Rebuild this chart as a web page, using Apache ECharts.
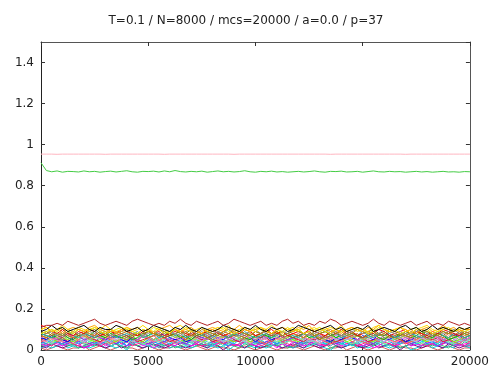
<!DOCTYPE html>
<html>
<head>
<meta charset="utf-8">
<script src="https://cdn.jsdelivr.net/npm/echarts@6/dist/echarts.min.js"></script>
<style>
  html, body { margin: 0; padding: 0; background: #fff; }
  #chart { width: 492px; height: 374px; }
</style>
</head>
<body>
<div id="chart"></div>
<script>
// Overlap of each stored pattern with the network state, sampled every 250 MCS.
const mcs = [0,250,500,750,1000,1250,1500,1750,2000,2250,
  2500,2750,3000,3250,3500,3750,4000,4250,4500,4750,
  5000,5250,5500,5750,6000,6250,6500,6750,7000,7250,
  7500,7750,8000,8250,8500,8750,9000,9250,9500,9750,
  10000,10250,10500,10750,11000,11250,11500,11750,12000,12250,
  12500,12750,13000,13250,13500,13750,14000,14250,14500,14750,
  15000,15250,15500,15750,16000,16250,16500,16750,17000,17250,
  17500,17750,18000,18250,18500,18750,19000,19250,19500,19750,
  20000];

const xTicks = [0, 5000, 10000, 15000, 20000];
const yTicks = [0, 0.2, 0.4, 0.6, 0.8, 1, 1.2, 1.4];

// pattern held near full overlap
const pinkPattern = [0.954,0.954,0.954,0.953,0.954,0.954,0.954,0.954,0.954,0.954,
  0.954,0.954,0.953,0.954,0.954,0.954,0.954,0.954,0.954,0.954,
  0.954,0.954,0.954,0.953,0.954,0.954,0.954,0.954,0.954,0.954,
  0.954,0.954,0.954,0.954,0.954,0.954,0.953,0.954,0.954,0.954,
  0.954,0.954,0.954,0.954,0.954,0.954,0.954,0.954,0.954,0.954,
  0.954,0.954,0.954,0.954,0.953,0.954,0.954,0.954,0.954,0.954,
  0.954,0.954,0.954,0.954,0.954,0.954,0.954,0.954,0.953,0.954,
  0.954,0.954,0.954,0.954,0.954,0.954,0.954,0.954,0.954,0.954,
  0.954];

// retrieved pattern
const greenPattern = [0.912,0.874,0.868,0.872,0.866,0.870,0.869,0.867,0.872,0.868,
  0.870,0.866,0.869,0.871,0.867,0.870,0.873,0.868,0.866,0.870,
  0.869,0.871,0.867,0.872,0.868,0.874,0.869,0.867,0.870,0.868,
  0.871,0.866,0.869,0.872,0.868,0.870,0.867,0.869,0.873,0.868,
  0.866,0.870,0.868,0.871,0.867,0.869,0.866,0.868,0.870,0.867,
  0.869,0.872,0.868,0.866,0.870,0.869,0.871,0.867,0.868,0.870,
  0.866,0.869,0.872,0.868,0.867,0.870,0.868,0.869,0.866,0.868,
  0.870,0.867,0.869,0.866,0.868,0.870,0.867,0.868,0.866,0.869,
  0.868];

// the remaining, weakly overlapping patterns
const m01 = [0.11,0.12,0.12,0.13,0.12,0.14,0.13,0.12,0.13,0.14,0.15,0.13,0.12,0.13,0.14,0.13,0.12,0.14,0.15,0.14,0.13,0.12,0.13,0.12,0.14,0.13,0.15,0.13,0.12,0.14,0.13,0.12,0.13,0.14,0.12,0.13,0.15,0.14,0.13,0.12,0.13,0.14,0.12,0.13,0.12,0.14,0.15,0.13,0.14,0.12,0.13,0.12,0.14,0.13,0.15,0.14,0.12,0.13,0.14,0.13,0.12,0.13,0.15,0.13,0.12,0.14,0.13,0.12,0.13,0.14,0.12,0.13,0.14,0.12,0.13,0.12,0.14,0.13,0.12,0.13,0.12];
const m02 = [0.09,0.10,0.12,0.10,0.11,0.09,0.10,0.11,0.12,0.10,0.09,0.11,0.10,0.10,0.12,0.11,0.09,0.10,0.11,0.09,0.10,0.12,0.11,0.10,0.09,0.11,0.10,0.12,0.10,0.09,0.11,0.10,0.09,0.10,0.12,0.11,0.10,0.09,0.11,0.10,0.12,0.10,0.09,0.11,0.10,0.11,0.09,0.10,0.12,0.11,0.10,0.09,0.10,0.11,0.12,0.10,0.11,0.09,0.10,0.11,0.10,0.12,0.09,0.10,0.11,0.10,0.09,0.11,0.12,0.10,0.11,0.09,0.10,0.12,0.10,0.11,0.10,0.09,0.11,0.10,0.11];
const m03 = [0.10,0.11,0.09,0.10,0.08,0.10,0.11,0.10,0.09,0.11,0.12,0.10,0.09,0.10,0.08,0.09,0.11,0.10,0.11,0.09,0.10,0.08,0.10,0.11,0.12,0.10,0.09,0.10,0.11,0.09,0.08,0.10,0.11,0.10,0.09,0.11,0.10,0.12,0.10,0.09,0.10,0.11,0.09,0.08,0.10,0.11,0.10,0.09,0.11,0.10,0.12,0.09,0.10,0.11,0.09,0.10,0.08,0.10,0.11,0.10,0.09,0.11,0.10,0.12,0.10,0.09,0.10,0.11,0.09,0.10,0.08,0.10,0.11,0.09,0.10,0.12,0.10,0.11,0.09,0.10,0.10];
const m04 = [0.08,0.09,0.10,0.09,0.11,0.09,0.08,0.10,0.09,0.10,0.11,0.09,0.08,0.09,0.10,0.11,0.10,0.09,0.08,0.10,0.09,0.11,0.10,0.08,0.09,0.10,0.09,0.11,0.10,0.09,0.08,0.10,0.09,0.10,0.11,0.09,0.08,0.09,0.10,0.09,0.11,0.10,0.09,0.08,0.10,0.09,0.11,0.09,0.10,0.08,0.09,0.10,0.11,0.09,0.08,0.10,0.09,0.10,0.11,0.09,0.10,0.08,0.09,0.11,0.10,0.09,0.10,0.08,0.09,0.10,0.11,0.09,0.10,0.08,0.09,0.10,0.11,0.09,0.10,0.09,0.10];
const m05 = [0.09,0.08,0.09,0.07,0.08,0.10,0.09,0.08,0.07,0.09,0.08,0.10,0.09,0.07,0.08,0.09,0.10,0.08,0.09,0.07,0.08,0.09,0.08,0.10,0.09,0.08,0.07,0.09,0.10,0.08,0.09,0.07,0.08,0.09,0.08,0.10,0.09,0.07,0.08,0.09,0.10,0.08,0.09,0.08,0.07,0.09,0.08,0.10,0.09,0.08,0.07,0.08,0.09,0.10,0.08,0.09,0.07,0.08,0.09,0.10,0.08,0.09,0.07,0.08,0.10,0.09,0.08,0.09,0.07,0.08,0.09,0.10,0.08,0.07,0.09,0.08,0.09,0.10,0.08,0.09,0.08];
const m06 = [0.12,0.11,0.09,0.08,0.10,0.08,0.07,0.09,0.08,0.10,0.09,0.07,0.08,0.09,0.08,0.10,0.09,0.08,0.07,0.09,0.10,0.08,0.09,0.07,0.08,0.09,0.10,0.08,0.07,0.09,0.08,0.09,0.10,0.08,0.07,0.08,0.09,0.08,0.10,0.09,0.07,0.08,0.09,0.10,0.08,0.09,0.07,0.08,0.09,0.08,0.10,0.09,0.08,0.07,0.09,0.08,0.10,0.08,0.09,0.07,0.08,0.09,0.08,0.10,0.09,0.07,0.08,0.09,0.10,0.08,0.09,0.08,0.07,0.09,0.08,0.10,0.09,0.08,0.07,0.09,0.08];
const m07 = [0.08,0.07,0.06,0.07,0.08,0.06,0.05,0.07,0.08,0.07,0.09,0.07,0.06,0.08,0.07,0.06,0.07,0.05,0.06,0.08,0.07,0.09,0.07,0.06,0.07,0.08,0.06,0.07,0.05,0.07,0.08,0.06,0.07,0.09,0.07,0.06,0.08,0.07,0.06,0.05,0.07,0.08,0.07,0.06,0.08,0.09,0.07,0.06,0.07,0.08,0.06,0.07,0.05,0.07,0.08,0.06,0.07,0.08,0.09,0.07,0.06,0.07,0.08,0.06,0.05,0.07,0.06,0.08,0.07,0.06,0.07,0.09,0.07,0.06,0.08,0.07,0.05,0.06,0.07,0.08,0.07];
const m08 = [0.06,0.05,0.07,0.06,0.05,0.04,0.06,0.07,0.05,0.06,0.08,0.06,0.05,0.06,0.07,0.05,0.04,0.06,0.05,0.07,0.06,0.05,0.07,0.08,0.06,0.05,0.06,0.04,0.05,0.07,0.06,0.07,0.05,0.06,0.05,0.07,0.08,0.06,0.05,0.06,0.04,0.06,0.07,0.05,0.06,0.07,0.05,0.06,0.08,0.06,0.05,0.06,0.07,0.05,0.04,0.06,0.05,0.07,0.06,0.05,0.07,0.06,0.05,0.08,0.06,0.05,0.07,0.06,0.04,0.05,0.06,0.07,0.05,0.06,0.07,0.05,0.06,0.08,0.06,0.05,0.06];
const m09 = [0.03,0.02,0.04,0.03,0.02,0.03,0.04,0.03,0.01,0.02,0.03,0.04,0.02,0.03,0.05,0.03,0.02,0.03,0.04,0.02,0.03,0.01,0.03,0.04,0.03,0.02,0.04,0.03,0.02,0.03,0.05,0.03,0.02,0.03,0.04,0.02,0.03,0.02,0.04,0.03,0.02,0.03,0.04,0.03,0.01,0.03,0.02,0.04,0.03,0.02,0.03,0.04,0.02,0.03,0.05,0.03,0.02,0.03,0.04,0.03,0.02,0.03,0.01,0.02,0.04,0.03,0.02,0.03,0.04,0.02,0.03,0.02,0.04,0.03,0.02,0.03,0.05,0.03,0.02,0.03,0.03];
const m10 = [0.04,0.05,0.03,0.04,0.05,0.04,0.03,0.05,0.06,0.04,0.03,0.04,0.05,0.03,0.04,0.02,0.04,0.05,0.04,0.03,0.05,0.04,0.06,0.04,0.03,0.04,0.05,0.03,0.04,0.05,0.04,0.03,0.02,0.04,0.05,0.04,0.03,0.05,0.04,0.06,0.04,0.03,0.04,0.05,0.03,0.04,0.05,0.04,0.03,0.04,0.05,0.06,0.04,0.03,0.04,0.05,0.03,0.04,0.02,0.04,0.05,0.04,0.03,0.05,0.04,0.06,0.04,0.03,0.04,0.05,0.03,0.04,0.05,0.04,0.03,0.05,0.04,0.03,0.04,0.05,0.04];
const m11 = [0.07,0.08,0.09,0.07,0.06,0.08,0.07,0.08,0.09,0.07,0.06,0.07,0.08,0.07,0.09,0.08,0.07,0.06,0.08,0.07,0.09,0.08,0.07,0.06,0.07,0.08,0.09,0.07,0.08,0.06,0.07,0.08,0.07,0.09,0.08,0.06,0.07,0.08,0.07,0.09,0.07,0.06,0.08,0.07,0.08,0.09,0.07,0.06,0.07,0.08,0.09,0.07,0.08,0.06,0.07,0.08,0.07,0.09,0.08,0.07,0.06,0.08,0.07,0.08,0.09,0.07,0.06,0.07,0.08,0.07,0.09,0.08,0.06,0.07,0.08,0.07,0.09,0.07,0.08,0.06,0.07];
const m12 = [0.06,0.07,0.05,0.06,0.08,0.07,0.06,0.05,0.07,0.06,0.08,0.06,0.07,0.05,0.06,0.07,0.08,0.06,0.05,0.07,0.06,0.07,0.05,0.06,0.08,0.07,0.06,0.07,0.05,0.06,0.07,0.08,0.06,0.05,0.07,0.06,0.08,0.07,0.06,0.05,0.06,0.07,0.06,0.08,0.05,0.06,0.07,0.06,0.08,0.07,0.05,0.06,0.07,0.06,0.05,0.08,0.07,0.06,0.07,0.05,0.06,0.08,0.07,0.06,0.05,0.07,0.06,0.08,0.06,0.07,0.05,0.06,0.07,0.08,0.06,0.05,0.07,0.06,0.07,0.08,0.06];
const m13 = [0.05,0.04,0.06,0.05,0.04,0.05,0.07,0.05,0.04,0.06,0.05,0.03,0.05,0.06,0.04,0.05,0.06,0.05,0.04,0.07,0.05,0.04,0.05,0.06,0.05,0.03,0.04,0.06,0.05,0.04,0.06,0.05,0.07,0.05,0.04,0.05,0.06,0.04,0.05,0.03,0.05,0.06,0.05,0.04,0.06,0.07,0.05,0.04,0.05,0.06,0.04,0.05,0.03,0.05,0.06,0.05,0.04,0.06,0.05,0.07,0.05,0.04,0.05,0.06,0.04,0.05,0.03,0.05,0.06,0.05,0.04,0.06,0.05,0.07,0.05,0.04,0.05,0.06,0.04,0.05,0.06];
const m14 = [0.04,0.05,0.04,0.06,0.04,0.03,0.05,0.04,0.05,0.03,0.04,0.06,0.05,0.04,0.03,0.05,0.04,0.06,0.05,0.04,0.03,0.04,0.05,0.04,0.06,0.05,0.04,0.03,0.05,0.04,0.05,0.06,0.04,0.05,0.03,0.04,0.05,0.04,0.06,0.04,0.05,0.03,0.04,0.05,0.06,0.04,0.05,0.04,0.03,0.05,0.04,0.06,0.05,0.04,0.05,0.03,0.04,0.05,0.06,0.04,0.05,0.04,0.03,0.05,0.04,0.06,0.05,0.04,0.05,0.03,0.04,0.05,0.06,0.04,0.05,0.04,0.03,0.05,0.04,0.06,0.05];
const m15 = [0.06,0.05,0.04,0.06,0.05,0.07,0.06,0.05,0.04,0.05,0.06,0.07,0.05,0.04,0.06,0.05,0.06,0.04,0.05,0.07,0.06,0.05,0.04,0.05,0.06,0.07,0.05,0.06,0.04,0.05,0.06,0.05,0.07,0.06,0.04,0.05,0.06,0.05,0.04,0.06,0.07,0.05,0.06,0.05,0.04,0.06,0.05,0.07,0.06,0.05,0.04,0.05,0.06,0.07,0.05,0.04,0.06,0.05,0.06,0.04,0.05,0.07,0.06,0.05,0.04,0.06,0.05,0.06,0.07,0.05,0.04,0.06,0.05,0.04,0.06,0.07,0.05,0.06,0.05,0.04,0.05];
const m16 = [0.08,0.09,0.07,0.08,0.10,0.08,0.09,0.07,0.08,0.09,0.10,0.08,0.07,0.09,0.08,0.09,0.10,0.08,0.07,0.08,0.09,0.08,0.10,0.09,0.07,0.08,0.09,0.08,0.10,0.07,0.08,0.09,0.08,0.07,0.09,0.10,0.08,0.09,0.08,0.07,0.09,0.08,0.10,0.08,0.09,0.07,0.08,0.09,0.10,0.08,0.07,0.09,0.08,0.09,0.07,0.08,0.10,0.09,0.08,0.07,0.08,0.09,0.10,0.08,0.07,0.09,0.08,0.07,0.09,0.08,0.10,0.08,0.09,0.07,0.08,0.09,0.08,0.10,0.08,0.09,0.08];
const m17 = [0.03,0.04,0.03,0.05,0.04,0.03,0.02,0.04,0.03,0.04,0.05,0.03,0.04,0.02,0.03,0.04,0.05,0.03,0.04,0.03,0.02,0.04,0.03,0.05,0.04,0.03,0.04,0.02,0.03,0.04,0.05,0.04,0.03,0.04,0.02,0.03,0.05,0.04,0.03,0.04,0.03,0.05,0.03,0.02,0.04,0.03,0.04,0.05,0.03,0.04,0.02,0.03,0.04,0.03,0.05,0.04,0.03,0.02,0.04,0.03,0.04,0.05,0.03,0.04,0.03,0.02,0.04,0.03,0.05,0.04,0.03,0.04,0.02,0.03,0.04,0.05,0.03,0.04,0.03,0.02,0.03];
const m18 = [0.07,0.06,0.08,0.06,0.05,0.07,0.06,0.08,0.07,0.05,0.06,0.07,0.06,0.08,0.07,0.06,0.05,0.07,0.08,0.06,0.07,0.05,0.06,0.07,0.08,0.06,0.07,0.05,0.06,0.08,0.07,0.06,0.05,0.07,0.06,0.08,0.07,0.06,0.05,0.07,0.06,0.08,0.07,0.06,0.07,0.05,0.06,0.08,0.07,0.06,0.07,0.08,0.06,0.05,0.07,0.06,0.07,0.08,0.06,0.07,0.05,0.06,0.07,0.08,0.06,0.07,0.05,0.06,0.07,0.08,0.06,0.07,0.05,0.06,0.08,0.07,0.06,0.07,0.05,0.06,0.07];
const m19 = [0.05,0.06,0.07,0.05,0.06,0.04,0.06,0.05,0.07,0.06,0.05,0.04,0.06,0.05,0.07,0.06,0.05,0.06,0.04,0.05,0.06,0.07,0.05,0.06,0.04,0.05,0.06,0.05,0.07,0.06,0.05,0.06,0.04,0.05,0.06,0.07,0.05,0.04,0.06,0.05,0.07,0.05,0.06,0.04,0.06,0.05,0.07,0.06,0.05,0.04,0.06,0.05,0.06,0.07,0.05,0.04,0.05,0.06,0.07,0.05,0.06,0.04,0.05,0.06,0.05,0.07,0.06,0.05,0.04,0.06,0.05,0.07,0.06,0.05,0.06,0.04,0.05,0.06,0.07,0.05,0.06];
const m20 = [0.04,0.03,0.05,0.04,0.03,0.04,0.05,0.03,0.04,0.06,0.04,0.03,0.04,0.05,0.03,0.04,0.02,0.05,0.04,0.03,0.05,0.04,0.03,0.04,0.05,0.04,0.03,0.05,0.04,0.06,0.04,0.03,0.04,0.05,0.03,0.02,0.04,0.05,0.04,0.03,0.04,0.05,0.03,0.04,0.03,0.05,0.04,0.06,0.04,0.03,0.05,0.04,0.03,0.04,0.05,0.03,0.04,0.02,0.04,0.05,0.04,0.03,0.05,0.04,0.06,0.04,0.03,0.04,0.05,0.03,0.04,0.05,0.03,0.04,0.02,0.04,0.05,0.04,0.03,0.05,0.04];
const m21 = [0.10,0.11,0.09,0.10,0.12,0.10,0.09,0.11,0.10,0.09,0.11,0.10,0.12,0.10,0.09,0.10,0.11,0.09,0.10,0.12,0.10,0.09,0.11,0.10,0.08,0.11,0.12,0.10,0.09,0.10,0.11,0.09,0.10,0.11,0.10,0.12,0.09,0.10,0.11,0.10,0.09,0.11,0.10,0.12,0.10,0.08,0.10,0.11,0.09,0.12,0.10,0.11,0.09,0.10,0.11,0.10,0.12,0.09,0.10,0.11,0.10,0.09,0.11,0.12,0.10,0.09,0.10,0.11,0.10,0.08,0.10,0.11,0.12,0.10,0.09,0.11,0.10,0.09,0.11,0.10,0.11];
const m22 = [0.02,0.01,0.03,0.02,0.01,0.02,0.03,0.02,0.01,0.02,0.03,0.02,0.01,0.02,0.03,0.01,0.02,0.04,0.02,0.01,0.02,0.03,0.02,0.01,0.02,0.04,0.02,0.01,0.02,0.03,0.02,0.01,0.03,0.02,0.00,0.02,0.03,0.02,0.01,0.03,0.02,0.01,0.02,0.03,0.02,0.01,0.02,0.03,0.02,0.01,0.03,0.02,0.01,0.02,0.04,0.02,0.01,0.02,0.03,0.02,0.01,0.02,0.03,0.01,0.02,0.03,0.02,0.00,0.02,0.03,0.02,0.01,0.02,0.03,0.02,0.01,0.03,0.02,0.01,0.02,0.02];
const m23 = [0.05,0.04,0.03,0.05,0.04,0.06,0.04,0.05,0.03,0.04,0.05,0.06,0.04,0.03,0.05,0.04,0.05,0.06,0.04,0.03,0.04,0.05,0.04,0.06,0.05,0.03,0.04,0.05,0.04,0.06,0.04,0.03,0.05,0.04,0.05,0.04,0.06,0.05,0.04,0.03,0.05,0.04,0.06,0.04,0.05,0.03,0.04,0.05,0.06,0.04,0.05,0.04,0.03,0.05,0.06,0.04,0.05,0.04,0.03,0.04,0.06,0.05,0.04,0.05,0.03,0.04,0.06,0.05,0.04,0.05,0.04,0.03,0.05,0.06,0.04,0.05,0.04,0.03,0.05,0.04,0.05];
const m24 = [0.07,0.06,0.08,0.07,0.09,0.07,0.06,0.07,0.08,0.06,0.07,0.09,0.07,0.06,0.08,0.07,0.06,0.08,0.07,0.09,0.06,0.07,0.08,0.06,0.07,0.08,0.07,0.05,0.09,0.07,0.08,0.06,0.07,0.09,0.07,0.06,0.08,0.07,0.06,0.08,0.07,0.06,0.08,0.07,0.09,0.06,0.07,0.08,0.07,0.06,0.08,0.07,0.05,0.07,0.08,0.09,0.07,0.06,0.07,0.08,0.06,0.07,0.09,0.07,0.08,0.06,0.07,0.08,0.07,0.06,0.09,0.07,0.06,0.08,0.07,0.06,0.08,0.07,0.09,0.07,0.08];
const m25 = [0.03,0.02,0.03,0.04,0.02,0.03,0.02,0.04,0.03,0.02,0.03,0.04,0.03,0.02,0.03,0.04,0.02,0.03,0.04,0.03,0.02,0.03,0.01,0.02,0.03,0.02,0.04,0.03,0.02,0.04,0.03,0.02,0.03,0.04,0.03,0.02,0.03,0.02,0.04,0.03,0.02,0.04,0.03,0.02,0.03,0.04,0.02,0.01,0.02,0.03,0.04,0.03,0.02,0.03,0.02,0.04,0.03,0.02,0.03,0.04,0.02,0.03,0.04,0.03,0.02,0.03,0.01,0.03,0.04,0.02,0.03,0.02,0.04,0.03,0.02,0.03,0.04,0.02,0.03,0.02,0.03];
const m26 = [0.04,0.03,0.02,0.04,0.03,0.05,0.03,0.02,0.04,0.03,0.04,0.02,0.03,0.04,0.05,0.03,0.04,0.02,0.03,0.04,0.03,0.05,0.04,0.03,0.02,0.04,0.03,0.04,0.05,0.03,0.02,0.03,0.04,0.03,0.05,0.04,0.02,0.03,0.04,0.03,0.04,0.02,0.03,0.05,0.03,0.04,0.03,0.02,0.04,0.03,0.05,0.04,0.03,0.02,0.03,0.04,0.05,0.03,0.04,0.02,0.03,0.04,0.03,0.05,0.04,0.03,0.02,0.04,0.03,0.04,0.05,0.03,0.02,0.03,0.04,0.03,0.05,0.04,0.03,0.02,0.04];
const m27 = [0.05,0.06,0.04,0.05,0.06,0.05,0.04,0.06,0.07,0.05,0.04,0.05,0.06,0.05,0.04,0.06,0.05,0.07,0.05,0.04,0.06,0.05,0.04,0.05,0.06,0.07,0.05,0.04,0.06,0.05,0.04,0.05,0.06,0.05,0.07,0.05,0.04,0.06,0.05,0.04,0.05,0.06,0.07,0.05,0.04,0.05,0.06,0.05,0.04,0.06,0.05,0.07,0.06,0.05,0.04,0.05,0.06,0.04,0.05,0.07,0.06,0.05,0.04,0.06,0.05,0.06,0.07,0.05,0.04,0.05,0.06,0.05,0.04,0.06,0.07,0.05,0.06,0.04,0.05,0.06,0.05];
const m28 = [0.01,0.02,0.01,0.02,0.03,0.01,0.02,0.01,0.02,0.01,0.02,0.03,0.01,0.02,0.01,0.02,0.00,0.03,0.02,0.01,0.02,0.01,0.02,0.03,0.01,0.02,0.01,0.02,0.01,0.02,0.03,0.01,0.02,0.01,0.02,0.00,0.02,0.03,0.01,0.02,0.01,0.02,0.01,0.02,0.03,0.01,0.02,0.01,0.02,0.01,0.02,0.03,0.02,0.01,0.00,0.02,0.01,0.02,0.03,0.01,0.02,0.01,0.02,0.03,0.02,0.01,0.02,0.01,0.02,0.00,0.01,0.02,0.03,0.01,0.02,0.01,0.02,0.01,0.03,0.02,0.01];
const m29 = [0.09,0.08,0.10,0.08,0.07,0.09,0.08,0.10,0.09,0.08,0.07,0.09,0.08,0.10,0.09,0.08,0.09,0.07,0.08,0.10,0.09,0.08,0.07,0.09,0.08,0.10,0.08,0.09,0.07,0.08,0.10,0.09,0.08,0.07,0.09,0.08,0.10,0.09,0.08,0.07,0.09,0.08,0.10,0.08,0.09,0.07,0.08,0.10,0.09,0.08,0.09,0.07,0.08,0.09,0.10,0.08,0.09,0.07,0.08,0.10,0.09,0.08,0.09,0.07,0.08,0.10,0.09,0.08,0.07,0.09,0.08,0.10,0.09,0.08,0.07,0.09,0.08,0.09,0.10,0.08,0.09];
const m30 = [0.06,0.07,0.05,0.06,0.07,0.06,0.05,0.07,0.06,0.05,0.07,0.06,0.08,0.06,0.05,0.06,0.07,0.05,0.06,0.07,0.06,0.05,0.07,0.06,0.08,0.06,0.05,0.06,0.07,0.06,0.04,0.07,0.06,0.05,0.06,0.07,0.08,0.06,0.05,0.06,0.07,0.05,0.06,0.07,0.06,0.05,0.07,0.06,0.08,0.06,0.05,0.06,0.04,0.06,0.07,0.05,0.06,0.07,0.06,0.08,0.06,0.05,0.07,0.06,0.05,0.06,0.07,0.06,0.05,0.07,0.08,0.06,0.05,0.06,0.07,0.05,0.06,0.07,0.06,0.05,0.06];
const m31 = [0.04,0.05,0.06,0.04,0.05,0.04,0.03,0.05,0.04,0.06,0.05,0.04,0.05,0.03,0.04,0.06,0.05,0.04,0.05,0.04,0.06,0.04,0.05,0.03,0.05,0.04,0.06,0.05,0.04,0.05,0.04,0.06,0.05,0.04,0.03,0.05,0.04,0.05,0.06,0.04,0.05,0.04,0.03,0.05,0.06,0.04,0.05,0.04,0.06,0.05,0.04,0.05,0.06,0.04,0.03,0.04,0.05,0.06,0.04,0.05,0.04,0.03,0.05,0.04,0.06,0.05,0.04,0.05,0.03,0.04,0.05,0.06,0.04,0.05,0.04,0.06,0.05,0.04,0.03,0.05,0.04];
const m32 = [0.02,0.03,0.02,0.04,0.03,0.02,0.03,0.01,0.02,0.03,0.02,0.03,0.04,0.02,0.03,0.02,0.01,0.03,0.02,0.03,0.04,0.02,0.03,0.02,0.03,0.01,0.02,0.03,0.04,0.02,0.03,0.02,0.03,0.02,0.04,0.03,0.02,0.01,0.03,0.02,0.03,0.04,0.02,0.03,0.02,0.03,0.01,0.02,0.03,0.02,0.04,0.03,0.02,0.03,0.01,0.02,0.03,0.04,0.02,0.03,0.02,0.03,0.02,0.04,0.03,0.02,0.03,0.01,0.02,0.03,0.04,0.02,0.03,0.02,0.03,0.02,0.01,0.03,0.02,0.04,0.03];
const m33 = [0.06,0.07,0.06,0.05,0.07,0.08,0.06,0.07,0.05,0.06,0.07,0.06,0.05,0.07,0.06,0.08,0.07,0.06,0.05,0.07,0.06,0.07,0.08,0.06,0.05,0.06,0.07,0.06,0.08,0.07,0.06,0.05,0.07,0.06,0.07,0.05,0.06,0.08,0.07,0.06,0.05,0.07,0.06,0.07,0.08,0.06,0.05,0.06,0.07,0.06,0.08,0.06,0.07,0.05,0.06,0.07,0.06,0.08,0.07,0.05,0.06,0.07,0.06,0.05,0.07,0.08,0.06,0.07,0.06,0.05,0.07,0.06,0.08,0.07,0.06,0.05,0.06,0.07,0.08,0.06,0.07];
const m34 = [0.08,0.07,0.06,0.08,0.07,0.09,0.07,0.06,0.08,0.07,0.06,0.08,0.09,0.07,0.06,0.07,0.08,0.07,0.09,0.06,0.07,0.08,0.06,0.07,0.09,0.07,0.08,0.06,0.07,0.08,0.07,0.09,0.06,0.08,0.07,0.06,0.08,0.07,0.09,0.07,0.06,0.07,0.08,0.06,0.07,0.09,0.08,0.07,0.06,0.08,0.07,0.06,0.08,0.09,0.07,0.08,0.06,0.07,0.08,0.07,0.09,0.07,0.06,0.08,0.07,0.08,0.06,0.07,0.09,0.08,0.07,0.06,0.08,0.07,0.09,0.07,0.06,0.08,0.07,0.06,0.07];
const m35 = [0.01,0.00,0.01,0.02,0.01,0.00,0.01,0.01,0.02,0.00,0.01,0.02,0.01,0.00,0.01,0.02,0.01,0.01,0.00,0.01,0.02,0.01,0.00,0.01,0.01,0.02,0.01,0.00,0.01,0.02,0.01,0.00,0.01,0.02,0.01,0.01,0.00,0.01,0.02,0.01,0.00,0.01,0.02,0.01,0.00,0.01,0.01,0.02,0.01,0.00,0.01,0.02,0.01,0.00,0.01,0.01,0.02,0.00,0.01,0.02,0.01,0.00,0.01,0.02,0.01,0.00,0.01,0.02,0.01,0.01,0.00,0.01,0.02,0.01,0.00,0.01,0.02,0.01,0.00,0.01,0.01];

const lowPatterns = [m35, m28, m22, m32, m25, m09, m17, m26, m10, m20, m14, m23, m31,
  m13, m27, m15, m19, m08, m30, m12, m33, m18, m07, m24, m11, m34, m16, m06,
  m05, m29, m04, m03, m21, m02, m01];
const lowColors = ['#cd5c5c', '#00ced1', '#800080', '#3cb371', '#4682b4', '#ff00ff', '#40e0d0',
  '#ff1493', '#00e0e0', '#1e90ff', '#8a2be2', '#90ee90', '#ff6347', '#ff69b4', '#7fff00',
  '#87ceeb', '#dc143c', '#0000ff', '#dda0dd', '#ffa07a', '#ba55d3', '#9acd32', '#00c000',
  '#d2691e', '#a0522d', '#20b2aa', '#808000', '#ff0000', '#999999', '#b8860b', '#e6e600',
  '#ffa500', '#ffd700', '#000000', '#b22222'];

const FONT = 'DejaVu Sans';

function pairs(xs, ys) {
  return ys.map((v, i) => [xs[i], v]);
}

const series = lowPatterns.map((vals, i) => ({
  type: 'line',
  data: pairs(mcs, vals),
  showSymbol: false,
  silent: true,
  lineStyle: { width: 1, color: lowColors[i] },
  z: 2
}));
series.push({
  type: 'line', data: pairs(mcs, greenPattern), showSymbol: false, silent: true,
  lineStyle: { width: 1, color: '#44cc44' }, z: 3
});
series.push({
  type: 'line', data: pairs(mcs, pinkPattern), showSymbol: false, silent: true,
  lineStyle: { width: 1, color: '#ffb6c1' }, z: 3
});

const tickStyle = { show: true, inside: true, length: 4, lineStyle: { color: '#333', width: 1 } };
const plainNumber = v => String(v);

const chart = echarts.init(document.getElementById('chart'), null, { renderer: 'canvas' });
chart.setOption({
  animation: false,
  backgroundColor: '#fff',
  title: {
    text: 'T=0.1 / N=8000 / mcs=20000 / a=0.0 / p=37',
    left: 'center',
    top: 10,
    textStyle: { fontFamily: FONT, fontSize: 12, fontWeight: 'normal', color: '#222' }
  },
  grid: { left: 41, right: 21, top: 42, bottom: 24, containLabel: false },
  xAxis: [
    {
      type: 'value', position: 'bottom', min: xTicks[0], max: xTicks[xTicks.length - 1], interval: 5000,
      axisLine: { show: true, onZero: false, lineStyle: { color: '#555', width: 1 } },
      axisTick: tickStyle,
      axisLabel: { margin: 6, fontFamily: FONT, fontSize: 12, color: '#222', formatter: plainNumber },
      splitLine: { show: false }
    },
    {
      type: 'value', position: 'top', min: xTicks[0], max: xTicks[xTicks.length - 1], interval: 5000,
      axisLine: { show: true, onZero: false, lineStyle: { color: '#555', width: 1 } },
      axisTick: tickStyle,
      axisLabel: { show: false },
      splitLine: { show: false }
    }
  ],
  yAxis: [
    {
      type: 'value', position: 'left', min: yTicks[0], max: 1.5, interval: 0.2,
      axisLine: { show: true, onZero: false, lineStyle: { color: '#222', width: 1 } },
      axisTick: tickStyle,
      axisLabel: { margin: 7, fontFamily: FONT, fontSize: 12, color: '#222', showMaxLabel: false },
      splitLine: { show: false }
    },
    {
      type: 'value', position: 'right', min: yTicks[0], max: 1.5, interval: 0.2,
      axisLine: { show: true, onZero: false, lineStyle: { color: '#555', width: 1 } },
      axisTick: tickStyle,
      axisLabel: { show: false },
      splitLine: { show: false }
    }
  ],
  series: series
});
</script>
</body>
</html>
